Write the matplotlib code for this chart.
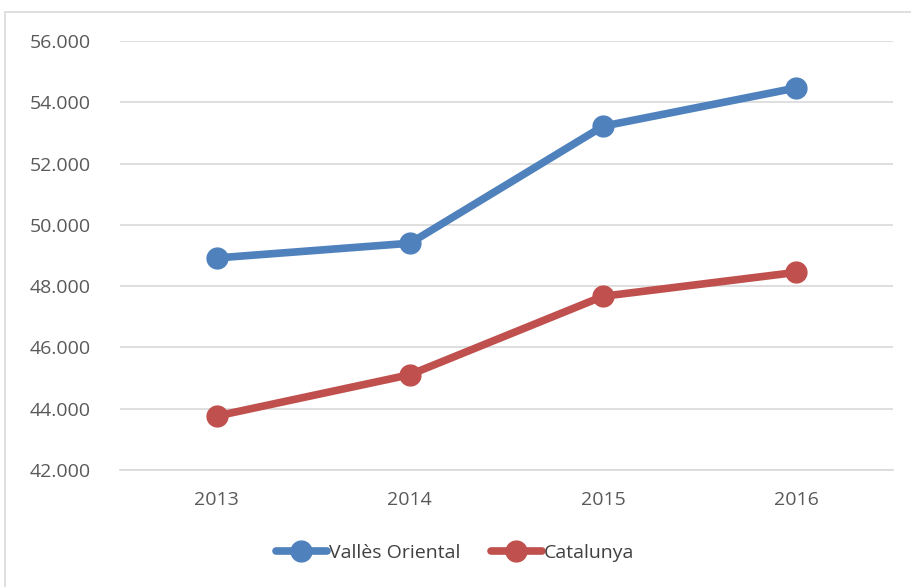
import matplotlib.pyplot as plt
from matplotlib.patches import Rectangle
from matplotlib.ticker import FuncFormatter

years = ["2013", "2014", "2015", "2016"]
valles = [48920, 49400, 53220, 54470]
catalunya = [43760, 45110, 47670, 48450]

plt.rcParams['font.family'] = ['Open Sans', 'DejaVu Sans']

fig = plt.figure(figsize=(9.12, 5.87), dpi=100)
# chart area border
fig.patches.append(Rectangle((5 / 912, -0.01), 1.0, 1 - 12 / 587 + 0.01,
                             transform=fig.transFigure, fill=False,
                             edgecolor="#d9d9d9", linewidth=1.2))

ax = fig.add_axes([120 / 912, 1 - 470 / 587, 773 / 912, 429 / 587])
x = range(len(years))
ax.plot(x, valles, color="#4F81BD", lw=5.5, marker="o", ms=15,
        solid_capstyle="round", label="Vallès Oriental")
ax.plot(x, catalunya, color="#C0504D", lw=5.5, marker="o", ms=15,
        solid_capstyle="round", label="Catalunya")

ax.set_xlim(-0.5, 3.5)
ax.set_ylim(42000, 56000)
ax.set_yticks(range(42000, 56001, 2000))
ax.yaxis.set_major_formatter(FuncFormatter(lambda v, p: f"{int(v):,}".replace(",", ".")))
ax.set_xticks(list(x))
ax.set_xticklabels(years)
ax.grid(axis="y", color="#d9d9d9", lw=1.2)
ax.set_axisbelow(True)
for s in ["top", "right", "left"]:
    ax.spines[s].set_visible(False)
ax.spines["bottom"].set_color("#d9d9d9")
ax.spines["bottom"].set_linewidth(1.2)
ax.tick_params(length=0, labelsize=14, colors="#595959", pad=15)
ax.tick_params(axis="y", pad=21)

leg = fig.legend(loc="center", bbox_to_anchor=(455 / 912, 1 - 553 / 587), ncol=2,
                 frameon=False, fontsize=14, handlelength=2.6, columnspacing=1.6,
                 handletextpad=0.1)
for t in leg.get_texts():
    t.set_color("#404040")

fig.savefig("out.png", dpi=100)
